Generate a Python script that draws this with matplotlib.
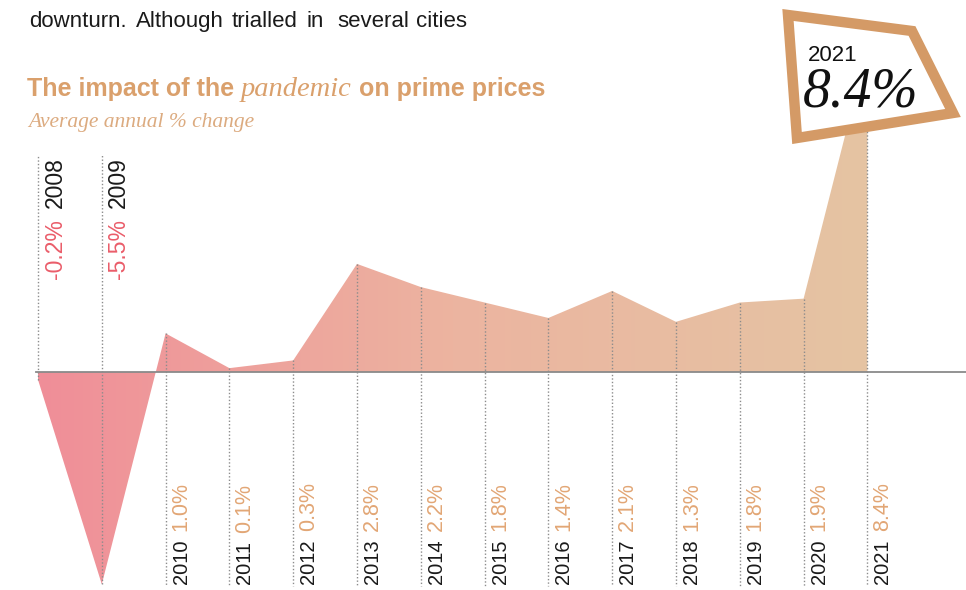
import matplotlib
matplotlib.use("Agg")
import matplotlib.pyplot as plt
import numpy as np
from matplotlib.colors import LinearSegmentedColormap
from matplotlib.patches import Polygon

years = [2008, 2009, 2010, 2011, 2012, 2013, 2014, 2015, 2016, 2017, 2018, 2019, 2020, 2021]
values = [-0.2, -5.5, 1.0, 0.1, 0.3, 2.8, 2.2, 1.8, 1.4, 2.1, 1.3, 1.8, 1.9, 8.4]
value_labels = ["-0.2%", "-5.5%", "1.0%", "0.1%", "0.3%", "2.8%", "2.2%", "1.8%", "1.4%",
                "2.1%", "1.3%", "1.8%", "1.9%", "8.4%"]
intro_words = ["downturn.", "Although", "trialled", "in", "several", "cities"]
title_parts = ["The impact of the ", "pandemic", " on prime prices"]
subtitle = "Average annual % change"
highlight_year = "2021"
highlight_value = "8.4%"

W, H = 966, 590
fig = plt.figure(figsize=(W / 100, H / 100), dpi=100)
ax = fig.add_axes([0, 0, 1, 1])
ax.set_axis_off()

# pixel mapping
x0px, dxpx = 38, 63.8
zero_px, unit_px = 372, 38.6
xmin = years[0] - x0px / dxpx
xmax = years[0] + (W - x0px) / dxpx
ymin = -(H - zero_px) / unit_px
ymax = zero_px / unit_px
ax.set_xlim(xmin, xmax)
ax.set_ylim(ymin, ymax)

def px_to_y(py):
    return (zero_px - py) / unit_px

# gradient fill area
xs = np.array(years, dtype=float)
ys = np.array(values, dtype=float)
verts = [(xs[0], 0)] + list(zip(xs, ys)) + [(xs[-1], 0)]
poly = Polygon(verts, closed=True, facecolor="none", edgecolor="none")
ax.add_patch(poly)
cmap = LinearSegmentedColormap.from_list("g", ["#f08e98", "#ecb4a0", "#e5c4a3"])
grad = np.linspace(0, 1, 256).reshape(1, -1)
im = ax.imshow(grad, cmap=cmap, aspect="auto",
               extent=[xs[0], xs[-1], ys.min(), ys.max()], origin="lower", zorder=1)
im.set_clip_path(poly)

# zero line
ax.plot([xs[0] - 0.03, xmax], [0, 0], color="#8a8a8a", lw=1.3, zorder=3)

# dotted lines
top_y = px_to_y(155)
bot_y = px_to_y(586)
for yr, v in zip(years, values):
    if v < 0:
        ax.plot([yr, yr], [v, top_y], ls=(0, (1, 1.5)), color="#8c8c8c", lw=1, zorder=4)
    else:
        ax.plot([yr, yr], [v, bot_y], ls=(0, (1, 1.5)), color="#8c8c8c", lw=1, zorder=4)

# labels
sans = "Liberation Sans"
serif = "Liberation Serif"
red = "#ea5d6a"
tan = "#e2a675"
for yr, v, lab in zip(years, values, value_labels):
    if v < 0:
        t = ax.text(yr + 17 / dxpx, px_to_y(157), str(yr), rotation=90, ha="center", va="top",
                    fontsize=16.5, family=sans, color="#1a1a1a", zorder=5)
        ax.annotate(lab, xy=(0.5, 0), xycoords=t, xytext=(0, -8), textcoords="offset points",
                    rotation=90, ha="center", va="top", fontsize=16.5, family=sans, color=red)
    else:
        t = ax.text(yr + 15.5 / dxpx, px_to_y(584), str(yr), rotation=90, ha="center", va="bottom",
                    fontsize=14.5, family=sans, color="#1a1a1a", zorder=5)
        ax.annotate(lab, xy=(0.5, 1), xycoords=t, xytext=(0, 6), textcoords="offset points",
                    rotation=90, ha="center", va="bottom", fontsize=15.5, family=sans, color=tan)

# header texts (figure pixel coords)
def fx(px):
    return px / W
def fy(py):
    return 1 - py / H

word_x = [29, 136, 232, 306, 337, 416]
for wx, w in zip(word_x, intro_words):
    fig.text(fx(wx), fy(27), w, fontsize=16, family=sans, color="#1a1a1a", va="baseline")

title_color = "#daa06c"
t1 = fig.text(fx(27), fy(96), title_parts[0], fontsize=18, family=sans, weight="bold",
              color=title_color, va="baseline")
t2 = fig.text(0, 0, title_parts[1], fontsize=20.5, family=serif, style="italic",
              color=title_color, va="baseline")
t3 = fig.text(0, 0, title_parts[2], fontsize=18, family=sans, weight="bold",
              color=title_color, va="baseline")
fig.canvas.draw()
r = fig.canvas.get_renderer()
bb1 = t1.get_window_extent(r)
t2.set_position((bb1.x1 / W, fy(96)))
fig.canvas.draw()
bb2 = t2.get_window_extent(r)
t3.set_position((bb2.x1 / W, fy(96)))

fig.text(fx(28), fy(127), subtitle, fontsize=15.5, family=serif, style="italic",
         color="#dcab80", va="baseline")

# highlight box
box_pts = [(788, 15), (912, 31), (953, 113), (797, 138)]
box = Polygon([(fx(x), fy(y)) for x, y in box_pts], closed=True, transform=fig.transFigure,
              facecolor="white", edgecolor="#d49a66", lw=7.5, joinstyle="miter", zorder=10)
fig.patches.append(box)
fig.text(fx(808), fy(61), highlight_year, fontsize=16, family=sans, color="#111111",
         va="baseline", zorder=11)
fig.text(fx(803), fy(106), highlight_value, fontsize=40, family=serif, style="italic",
         color="#111111", va="baseline", zorder=11)

fig.savefig("out.png", dpi=100)
